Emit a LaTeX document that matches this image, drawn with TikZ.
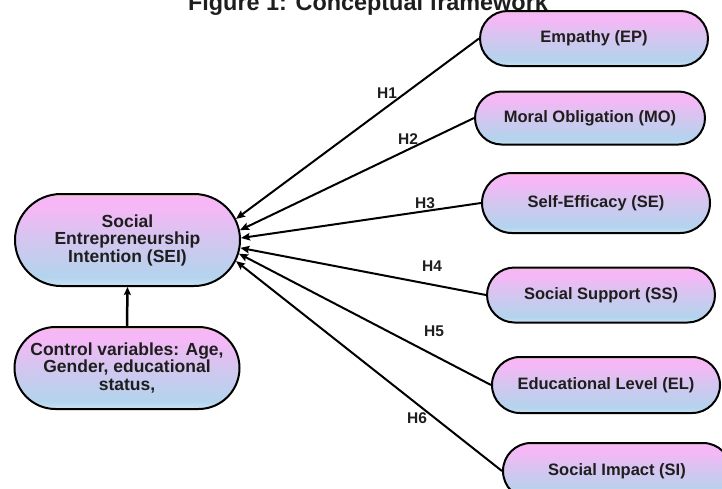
\documentclass[tikz,border=0pt]{standalone}
\usepackage{fontspec}
\setmainfont{Liberation Sans}
\usetikzlibrary{shapes.misc,arrows.meta}
\definecolor{sbot}{HTML}{C9E2F2}
\definecolor{sblue}{HTML}{B3D4EE}
\definecolor{smid}{HTML}{D3C6EF}
\definecolor{spink}{HTML}{F6B7F6}
\definecolor{speach}{HTML}{F8C6C2}
\definecolor{txt}{HTML}{1E1E1E}
\pgfdeclareverticalshading{nodeshade}{100bp}{%
  color(0bp)=(sbot); color(25bp)=(sbot); color(30bp)=(sblue);
  color(50bp)=(smid); color(68bp)=(spink); color(73bp)=(spink);
  color(75bp)=(speach); color(100bp)=(speach)}
\tikzset{
  cbox/.style={rounded rectangle, draw=black, line width=2pt, shading=nodeshade,
    font=\fontsize{16.5}{18}\selectfont\bfseries, align=center, inner sep=0pt,
    text=txt},
  rbox/.style={cbox, minimum width=228pt, minimum height=56pt},
  lbox/.style={cbox, minimum width=225pt, font=\fontsize{17.5}{17.5}\selectfont\bfseries},
  hyp/.style={-{Stealth[length=9pt,width=7.5pt,inset=1.5pt]}, line width=2pt},
  hlab/.style={font=\fontsize{15.5}{16}\selectfont\bfseries, text=txt, inner sep=0pt},
}
\begin{document}
\begin{tikzpicture}[x=1pt,y=-1pt]
\useasboundingbox[fill=white] (0,0) rectangle (722,488);
\node[font=\fontsize{23.4}{28}\selectfont\bfseries, anchor=base, text=txt] (title) at (368,10) {Figure 1: Conceptual framework};
\node[lbox, minimum height=92pt] (SEI) at (127.5,240) {Social\\Entrepreneurship\\Intention (SEI)};
\node[lbox, minimum height=82pt] (CV) at (127,368) {Control variables: Age,\\Gender, educational\\status,};
\node[rbox, minimum height=55pt] (EP) at (594,38.5) {Empathy (EP)};
\node[rbox, minimum height=53pt, minimum width=230pt] (MO) at (590,118) {Moral Obligation (MO)};
\node[rbox, minimum height=60pt] (SE) at (596,203) {Self-Efficacy (SE)};
\node[rbox, minimum height=55pt] (SS) at (601,295) {Social Support (SS)};
\node[rbox, minimum height=56pt] (EL) at (606,385) {Educational Level (EL)};
\node[rbox, minimum height=56pt] (SI) at (617,471) {Social Impact (SI)};
\draw[hyp] (EP.west) -- (SEI.11);
\draw[hyp] (MO.west) -- (SEI.5);
\draw[hyp] (SE.west) -- (SEI.1);
\draw[hyp] (SS.west) -- (SEI.-4);
\draw[hyp] (EL.west) -- (SEI.-7.5);
\draw[hyp] (SI.west) -- (SEI.-11);
\draw[-{Stealth[length=8pt,width=7pt,inset=1.5pt]}, line width=2.5pt] (CV.north) -- (SEI.south);
\node[hlab] (h1) at (387,93) {H1};
\node[hlab] (h2) at (408,139) {H2};
\node[hlab] (h3) at (425,203) {H3};
\node[hlab] (h4) at (432,266) {H4};
\node[hlab] (h5) at (434,331) {H5};
\node[hlab] (h6) at (417,418) {H6};
\end{tikzpicture}
\end{document}
